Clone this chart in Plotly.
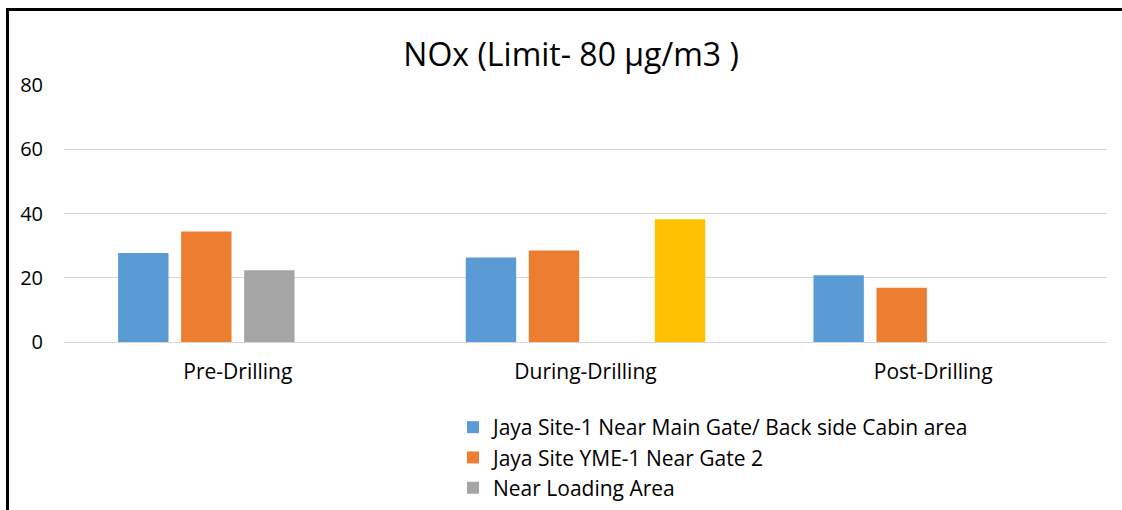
import plotly.graph_objects as go

# NOx readings per drilling phase (µg/m3)
phases = ["Pre-Drilling", "During-Drilling", "Post-Drilling"]
site_main_gate = [27.7, 26.3, 20.8]
site_yme_gate2 = [34.4, 28.5, 16.9]
near_loading = [22.3, None, None]
near_drilling = [None, 38.2, None]

series = [
    ("Jaya Site-1 Near Main Gate/ Back side Cabin area", site_main_gate, "#5B9BD5", True),
    ("Jaya Site YME-1 Near Gate 2", site_yme_gate2, "#ED7D31", True),
    ("Near Loading Area", near_loading, "#A5A5A5", True),
    ("Near Drilling Site", near_drilling, "#FFC000", False),
]

W, H = 1122, 510
ML, MR, MT, MB = 64, 15, 85, 168
FONT = "Open Sans"

fig = go.Figure()
for name, vals, color, show in series:
    fig.add_trace(go.Bar(
        x=phases, y=vals, name=name, marker_color=color,
        marker_line_width=0, showlegend=show,
    ))

pw = W - ML - MR
ph = H - MT - MB


def px_x(p):
    return (p - ML) / pw


def px_y(p):
    return (H - MB - p) / ph


fig.update_layout(
    width=W, height=H,
    margin=dict(l=ML, r=MR, t=MT, b=MB, autoexpand=False),
    paper_bgcolor="white", plot_bgcolor="white",
    barmode="group", bargap=0.275, bargroupgap=0.2,
    font=dict(family=FONT, color="#000000"),
    title=dict(
        text="NOx (Limit- 80 µg/m3 )",
        font=dict(family=FONT, size=32, color="#000000"),
        x=0.509, xanchor="center", xref="container",
        y=1 - 55 / H, yanchor="middle", yref="container",
    ),
    xaxis=dict(
        showgrid=False, showline=False, ticks="", zeroline=False,
        tickfont=dict(family=FONT, size=21, color="#000000"),
        ticklabelstandoff=15,
    ),
    yaxis=dict(
        range=[0, 80], tickvals=[0, 20, 40, 60, 80],
        showgrid=True, gridcolor="#D6D6D6", gridwidth=1.3,
        zeroline=True, zerolinecolor="#D6D6D6", zerolinewidth=1.3,
        showline=False, ticks="",
        tickfont=dict(family=FONT, size=20, color="#000000"),
        ticklabelstandoff=20,
    ),
    legend=dict(
        orientation="v",
        x=px_x(453), xanchor="left",
        y=px_y(407), yanchor="top",
        font=dict(family=FONT, size=21, color="#000000"),
        bgcolor="rgba(0,0,0,0)", tracegroupgap=0,
    ),
    shapes=[
        dict(type="line", xref="paper", yref="paper",
             x0=px_x(7.5), x1=px_x(7.5), y0=px_y(9.5), y1=px_y(H + 5),
             line=dict(color="#000000", width=3)),
        dict(type="line", xref="paper", yref="paper",
             x0=px_x(6), x1=px_x(W + 5), y0=px_y(9.5), y1=px_y(9.5),
             line=dict(color="#000000", width=3)),
    ],
)

fig.write_html("out.html")
